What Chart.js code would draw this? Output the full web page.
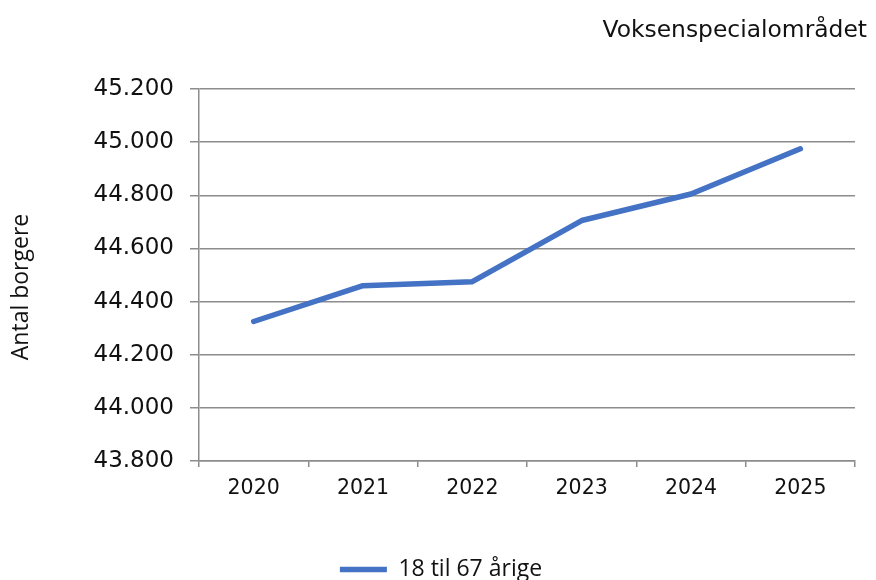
<!DOCTYPE html>
<html>
<head>
<meta charset="utf-8">
<script src="https://cdn.jsdelivr.net/npm/chart.js@4/dist/chart.umd.min.js"></script>
<style>
  html, body { margin: 0; padding: 0; background: #fff; }
  #wrap { width: 876px; height: 580px; position: relative; }
</style>
</head>
<body>
<div id="wrap"><canvas id="chart"></canvas></div>
<script>
"use strict";

const YEARS = ["2020", "2021", "2022", "2023", "2024", "2025"];
const BORGERE_18_67 = [44325, 44460, 44475, 44705, 44805, 44975];
const SERIES_LABEL = "18 til 67 årige";
const CHART_TITLE = "Voksenspecialområdet";
const Y_TITLE = "Antal borgere";
const Y_MIN = 43800;
const Y_MAX = 45200;
const Y_STEP = 200;

const GRID_COLOR = "#8c8c8c";
const TEXT_COLOR = "#111";
const LINE_COLOR = "#4472c4";

// 45200 -> "45.200"
function fmtThousands(v) {
  const n = Math.round(v);
  const rest = String(n % 1000).padStart(3, "0");
  return `${Math.floor(n / 1000)}.${rest}`;
}

// corner title top right + rotated y-axis caption
const captionsPlugin = {
  id: "captions",
  afterDraw(c) {
    const { ctx } = c;
    ctx.save();
    ctx.fillStyle = TEXT_COLOR;
    ctx.font = "23.4px 'DejaVu Sans'";
    ctx.textAlign = "right";
    ctx.textBaseline = "middle";
    ctx.fillText(CHART_TITLE, 867, 31);

    ctx.translate(21, 287);
    ctx.rotate(-Math.PI / 2);
    ctx.font = "23px 'Open Sans'";
    ctx.textAlign = "center";
    ctx.fillText(Y_TITLE, 0, 0);
    ctx.restore();
  },
};

new Chart(document.getElementById("chart"), {
  type: "line",
  data: {
    labels: YEARS,
    datasets: [
      {
        label: SERIES_LABEL,
        data: BORGERE_18_67,
        borderColor: LINE_COLOR,
        backgroundColor: LINE_COLOR,
        borderWidth: 5.5,
        borderCapStyle: "round",
        borderJoinStyle: "round",
        pointRadius: 0,
        tension: 0,
      },
    ],
  },
  options: {
    responsive: true,
    maintainAspectRatio: false,
    animation: false,
    layout: { padding: { top: 89, right: 21, bottom: -11, left: 27 } },
    scales: {
      x: {
        offset: true,
        grid: { offset: true, drawOnChartArea: false, drawTicks: true, tickLength: 6, color: GRID_COLOR, lineWidth: 1.5 },
        border: { display: true, color: GRID_COLOR, width: 1.5 },
        ticks: { color: TEXT_COLOR, font: { family: "DejaVu Sans", size: 20.5 }, padding: 9, maxRotation: 0 },
        afterFit(s) { s.height = 87; },
      },
      y: {
        min: Y_MIN,
        max: Y_MAX,
        grid: { color: GRID_COLOR, lineWidth: 1.5, tickLength: 9 },
        border: { display: true, color: GRID_COLOR, width: 1.5 },
        ticks: { stepSize: Y_STEP, color: TEXT_COLOR, font: { family: "DejaVu Sans", size: 23 }, padding: 16, callback: (v) => fmtThousands(v) },
        afterFit(s) { s.width = 172; },
      },
    },
    plugins: {
      legend: {
        position: "bottom",
        labels: {
          color: TEXT_COLOR,
          font: { family: "Open Sans", size: 23 },
          usePointStyle: true,
          pointStyle: "line",
          pointStyleWidth: 47,
          padding: 10,
        },
      },
      tooltip: { enabled: false },
    },
  },
  plugins: [captionsPlugin],
});
</script>
</body>
</html>
